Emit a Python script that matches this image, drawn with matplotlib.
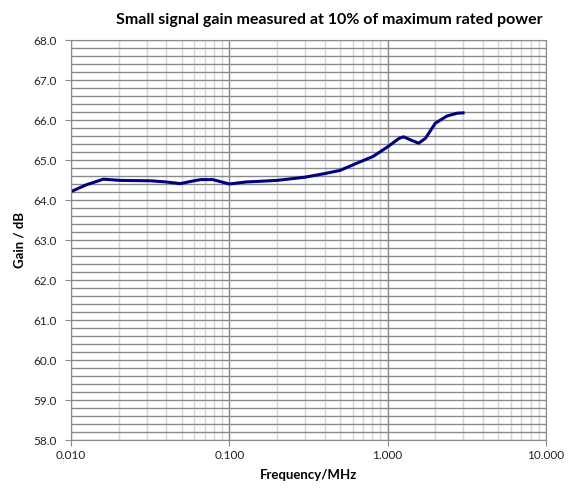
import matplotlib
matplotlib.use("Agg")
import matplotlib.pyplot as plt
from matplotlib.ticker import FixedLocator, MultipleLocator, NullFormatter

plt.rcParams['font.family'] = ['Lato', 'DejaVu Sans']

# Gain curve
freq_mhz = [0.010, 0.0125, 0.016, 0.0205, 0.0318, 0.040, 0.049, 0.058, 0.066, 0.0785,
            0.100, 0.127, 0.200, 0.300, 0.400, 0.500, 0.630, 0.810, 1.000,
            1.180, 1.260, 1.400, 1.570, 1.730, 2.000, 2.370, 2.750, 3.060]
gain_db = [64.21, 64.38, 64.52, 64.49, 64.48, 64.45, 64.41, 64.47, 64.51, 64.51,
           64.40, 64.45, 64.49, 64.57, 64.66, 64.74, 64.91, 65.09, 65.33,
           65.54, 65.58, 65.50, 65.42, 65.54, 65.92, 66.10, 66.17, 66.18]

x_ticks = [0.01, 0.1, 1, 10]
x_tick_labels = ["0.010", "0.100", "1.000", "10.000"]
y_ticks = [58, 59, 60, 61, 62, 63, 64, 65, 66, 67, 68]

fig = plt.figure(figsize=(5.74, 4.88), dpi=100)
ax = fig.add_axes([71 / 574, 1 - 440 / 488, 475 / 574, 400 / 488])

ax.set_xscale("log")
ax.set_xlim(0.01, 10)
ax.set_ylim(58, 68)

# grid: vertical minor light, everything else darker grey
minor_x = [m * 10.0 ** d for d in (-2, -1, 0) for m in range(2, 10)]
ax.xaxis.set_major_locator(FixedLocator(x_ticks))
ax.xaxis.set_minor_locator(FixedLocator(minor_x))
ax.xaxis.set_minor_formatter(NullFormatter())
ax.set_xticklabels(x_tick_labels)
ax.yaxis.set_major_locator(FixedLocator(y_ticks))
ax.yaxis.set_minor_locator(MultipleLocator(0.2))
ax.set_yticklabels(["%.1f" % v for v in y_ticks])

ax.grid(which="major", axis="both", color="#8a8a8a", linewidth=1.0)
ax.grid(which="minor", axis="x", color="#d4d4d4", linewidth=1.0)
ax.grid(which="minor", axis="y", color="#8a8a8a", linewidth=1.0)
ax.set_axisbelow(True)

ax.plot(freq_mhz, gain_db, color="#000080", linewidth=2.2, solid_capstyle="butt")

for s in ax.spines.values():
    s.set_color("#8a8a8a")
ax.tick_params(which="major", length=4, color="#8a8a8a", labelsize=8.5, labelcolor="#222222")
ax.tick_params(which="minor", length=0)
ax.tick_params(axis="x", pad=3)
ax.tick_params(axis="y", pad=6)

fig.text(0.573, 1 - 20 / 488, "Small signal gain measured at 10% of maximum rated power",
         fontsize=11.5, fontweight="bold", ha="center", va="center")
ax.set_xlabel("Frequency/MHz", fontsize=9.5, fontweight="bold", labelpad=6)
ax.set_ylabel("Gain / dB", fontsize=9.5, fontweight="bold", labelpad=6)

fig.savefig("out.png", dpi=100)
